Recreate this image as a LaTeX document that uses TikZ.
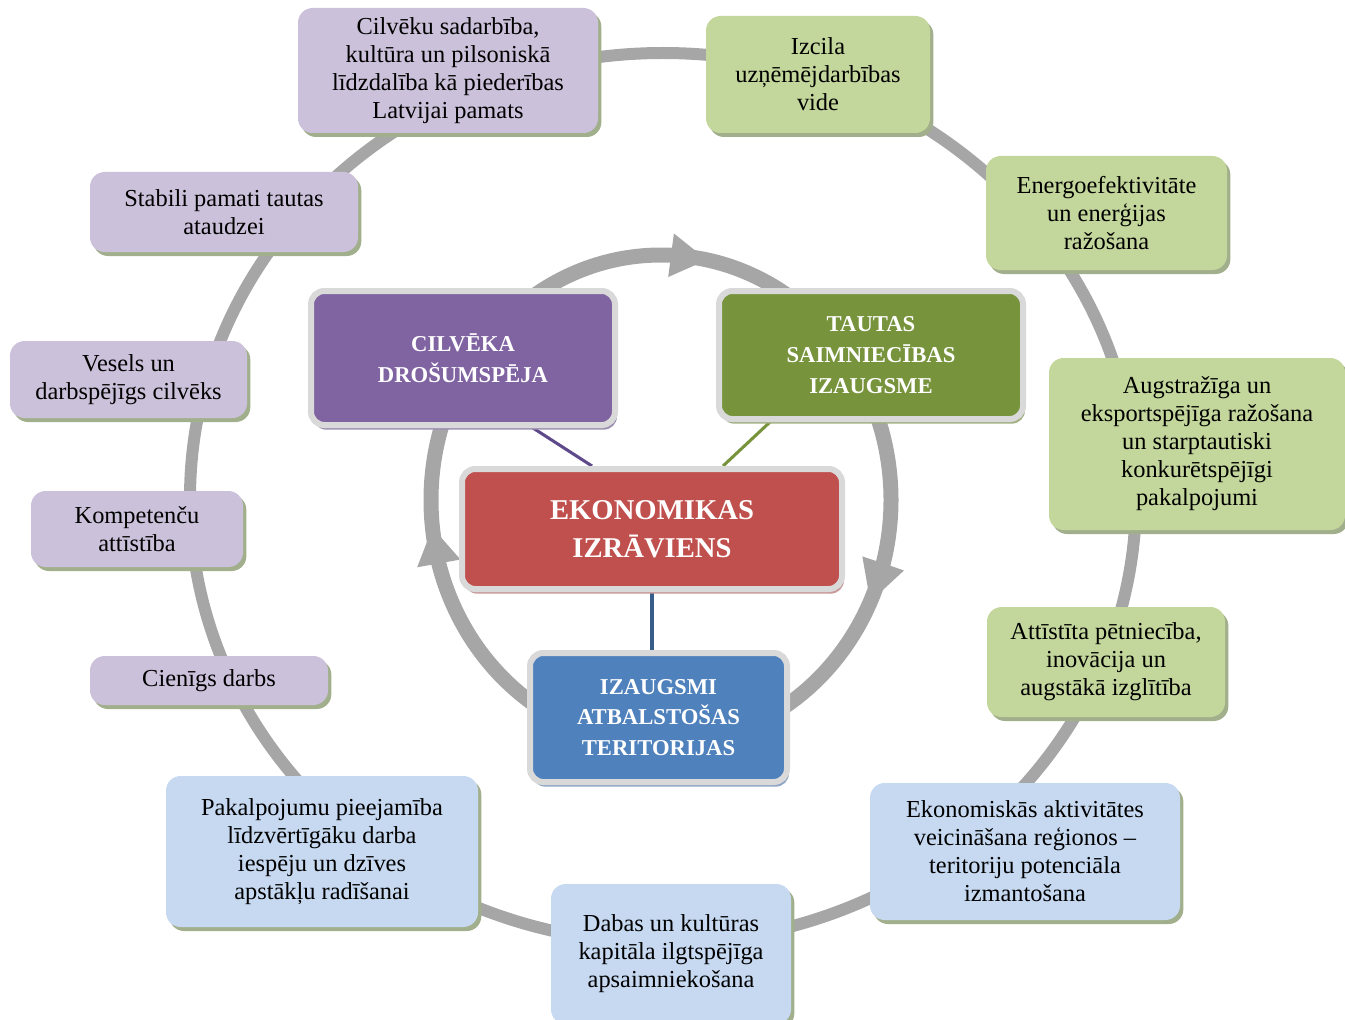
\documentclass[tikz,border=0pt]{standalone}
\usepackage{fontspec}
\setmainfont{Liberation Serif}
\usetikzlibrary{calc,shadows}
\pgfdeclarelayer{background}
\pgfsetlayers{background,main}
\definecolor{ringc}{HTML}{A6A6A6}
\definecolor{lpur}{HTML}{CCC1DA}
\definecolor{lgrn}{HTML}{C3D69B}
\definecolor{lblu}{HTML}{C6D9F1}
\definecolor{oshad}{HTML}{A2AF8C}
\definecolor{dpur}{HTML}{8064A2}
\definecolor{dgrn}{HTML}{77933C}
\definecolor{dred}{HTML}{C0504D}
\definecolor{dblu}{HTML}{4F81BD}
\definecolor{bord}{HTML}{D9D9D9}
\definecolor{shpur}{HTML}{9D90B0}
\definecolor{shgrn}{HTML}{A2B082}
\definecolor{shred}{HTML}{C99A99}
\definecolor{shblu}{HTML}{90A6C4}
\definecolor{lnpur}{HTML}{5E4A8A}
\definecolor{lngrn}{HTML}{77933C}
\definecolor{lnblu}{HTML}{385D8A}
\tikzset{
  outerbox/.style={rounded corners=11pt, inner sep=0pt, align=center,
    font=\fontsize{18.3}{21}\selectfont, text=black,
    drop shadow={shadow xshift=2.5pt, shadow yshift=-3pt, fill=oshad, opacity=1}},
  pbox/.style={outerbox, fill=lpur},
  gbox/.style={outerbox, fill=lgrn},
  bbox/.style={outerbox, fill=lblu},
  corebox/.style={rounded corners=10pt, inner sep=0pt, align=center,
    draw=bord, line width=4.5pt, text=white,
    font=\bfseries\fontsize{17}{23}\selectfont},
  ringline/.style={draw=ringc, line width=9pt},
  innerring/.style={draw=ringc, line width=11.25pt},
  link/.style={line width=2.3pt},
}
\newcommand\dgbox[7]{%
  \pgfmathsetmacro\bcx{(#3+#5)/2}%
  \pgfmathsetmacro\bcy{(#4+#6)/2}%
  \pgfmathsetmacro\bw{(#5-#3)*0.75}%
  \pgfmathsetmacro\bh{(#6-#4)*0.75}%
  \node[#2, minimum width=\bw pt, minimum height=\bh pt] (#1) at (\bcx,\bcy) {#7};}
\begin{document}
\begin{tikzpicture}[x=0.75pt, y=-0.75pt]
\clip (0,0) rectangle (1345,1020);
% outer ring
\draw[ringline] (663,498) ellipse [x radius=473, y radius=445];
% inner ring
\draw[innerring] (661,500) ellipse [x radius=230, y radius=245];
% arrowheads on inner ring (clockwise)
\coordinate (a1t) at ({661+230*cos(78.5)},{500-245*sin(78.5)});
\coordinate (a1b) at ({661+230*cos(87.5)},{500-245*sin(87.5)});
\fill[ringc] (a1t) -- ($(a1b)!16.5pt!90:(a1t)$) -- ($(a1b)!16.5pt!-90:(a1t)$) -- cycle;
\coordinate (a2t) at ({661+230*cos(-24.5)},{500-245*sin(-24.5)});
\coordinate (a2b) at ({661+230*cos(-15)},{500-245*sin(-15)});
\fill[ringc] (a2t) -- ($(a2b)!16.5pt!90:(a2t)$) -- ($(a2b)!16.5pt!-90:(a2t)$) -- cycle;
\coordinate (a3t) at ({661+230*cos(186.5)},{500-245*sin(186.5)});
\coordinate (a3b) at ({661+230*cos(195)},{500-245*sin(195)});
\fill[ringc] (a3t) -- ($(a3b)!16.5pt!90:(a3t)$) -- ($(a3b)!16.5pt!-90:(a3t)$) -- cycle;

% outer boxes
\dgbox{b1}{pbox}{298}{8}{598}{133}{Cilvēku sadarbība,\\kultūra un pilsoniskā\\līdzdalība kā piederības\\Latvijai pamats}
\dgbox{b2}{pbox}{90}{172}{358}{252}{Stabili pamati tautas\\ataudzei}
\dgbox{b3}{pbox}{10}{341}{247}{418}{Vesels un\\darbspējīgs cilvēks}
\dgbox{b4}{pbox}{31}{491}{243}{567}{Kompetenču\\attīstība}
\dgbox{b5}{pbox}{90}{656}{328}{705}{Cienīgs darbs}
\dgbox{b6}{gbox}{706}{16}{930}{133}{Izcila\\uzņēmējdarbības\\vide}
\dgbox{b7}{gbox}{986}{156}{1227}{270}{Energoefektivitāte\\un enerģijas\\ražošana}
\dgbox{b8}{gbox}{1049}{358}{1345}{530}{Augstražīga un\\eksportspējīga ražošana\\un starptautiski\\konkurētspējīgi\\pakalpojumi}
\dgbox{b9}{gbox}{987}{607}{1225}{717}{Attīstīta pētniecība,\\inovācija un\\augstākā izglītība}
\dgbox{b10}{bbox}{870}{783}{1180}{920}{Ekonomiskās aktivitātes\\veicināšana reģionos –\\teritoriju potenciāla\\izmantošana}
\dgbox{b11}{bbox}{551}{884}{791}{1024}{Dabas un kultūras\\kapitāla ilgtspējīga\\apsaimniekošana}
\dgbox{b12}{bbox}{166}{776}{478}{927}{Pakalpojumu pieejamība\\līdzvērtīgāku darba\\iespēju un dzīves\\apstākļu radīšanai}

% core boxes
\dgbox{cil}{corebox, fill=dpur, drop shadow={shadow xshift=1.5pt, shadow yshift=-3.5pt, fill=shpur, opacity=1}}{311}{291}{615}{425}{CILVĒKA\\DROŠUMSPĒJA}
\dgbox{tsi}{corebox, fill=dgrn, drop shadow={shadow xshift=1.5pt, shadow yshift=-3.5pt, fill=shgrn, opacity=1}}{719}{291}{1023}{419}{TAUTAS\\SAIMNIECĪBAS\\IZAUGSME}
\dgbox{eko}{corebox, fill=dred, font=\bfseries\fontsize{21.5}{28.5}\selectfont, drop shadow={shadow xshift=1.5pt, shadow yshift=-3.5pt, fill=shred, opacity=1}}{462}{469}{842}{589}{EKONOMIKAS\\IZRĀVIENS}
\dgbox{ter}{corebox, fill=dblu, drop shadow={shadow xshift=1.5pt, shadow yshift=-3.5pt, fill=shblu, opacity=1}}{530}{653}{787}{782}{IZAUGSMI\\ATBALSTOŠAS\\TERITORIJAS}

% connectors
\begin{pgfonlayer}{background}
\draw[link, lnpur] ($(cil.south)+(70,0)$) -- ($(eko.north)+(-60,0)$);
\draw[link, lngrn] ($(tsi.south)+(-101,0)$) -- ($(eko.north)+(71,0)$);
\draw[link, lnblu] (eko.south) -- (eko.south |- ter.north);
\end{pgfonlayer}
\end{tikzpicture}
\end{document}
